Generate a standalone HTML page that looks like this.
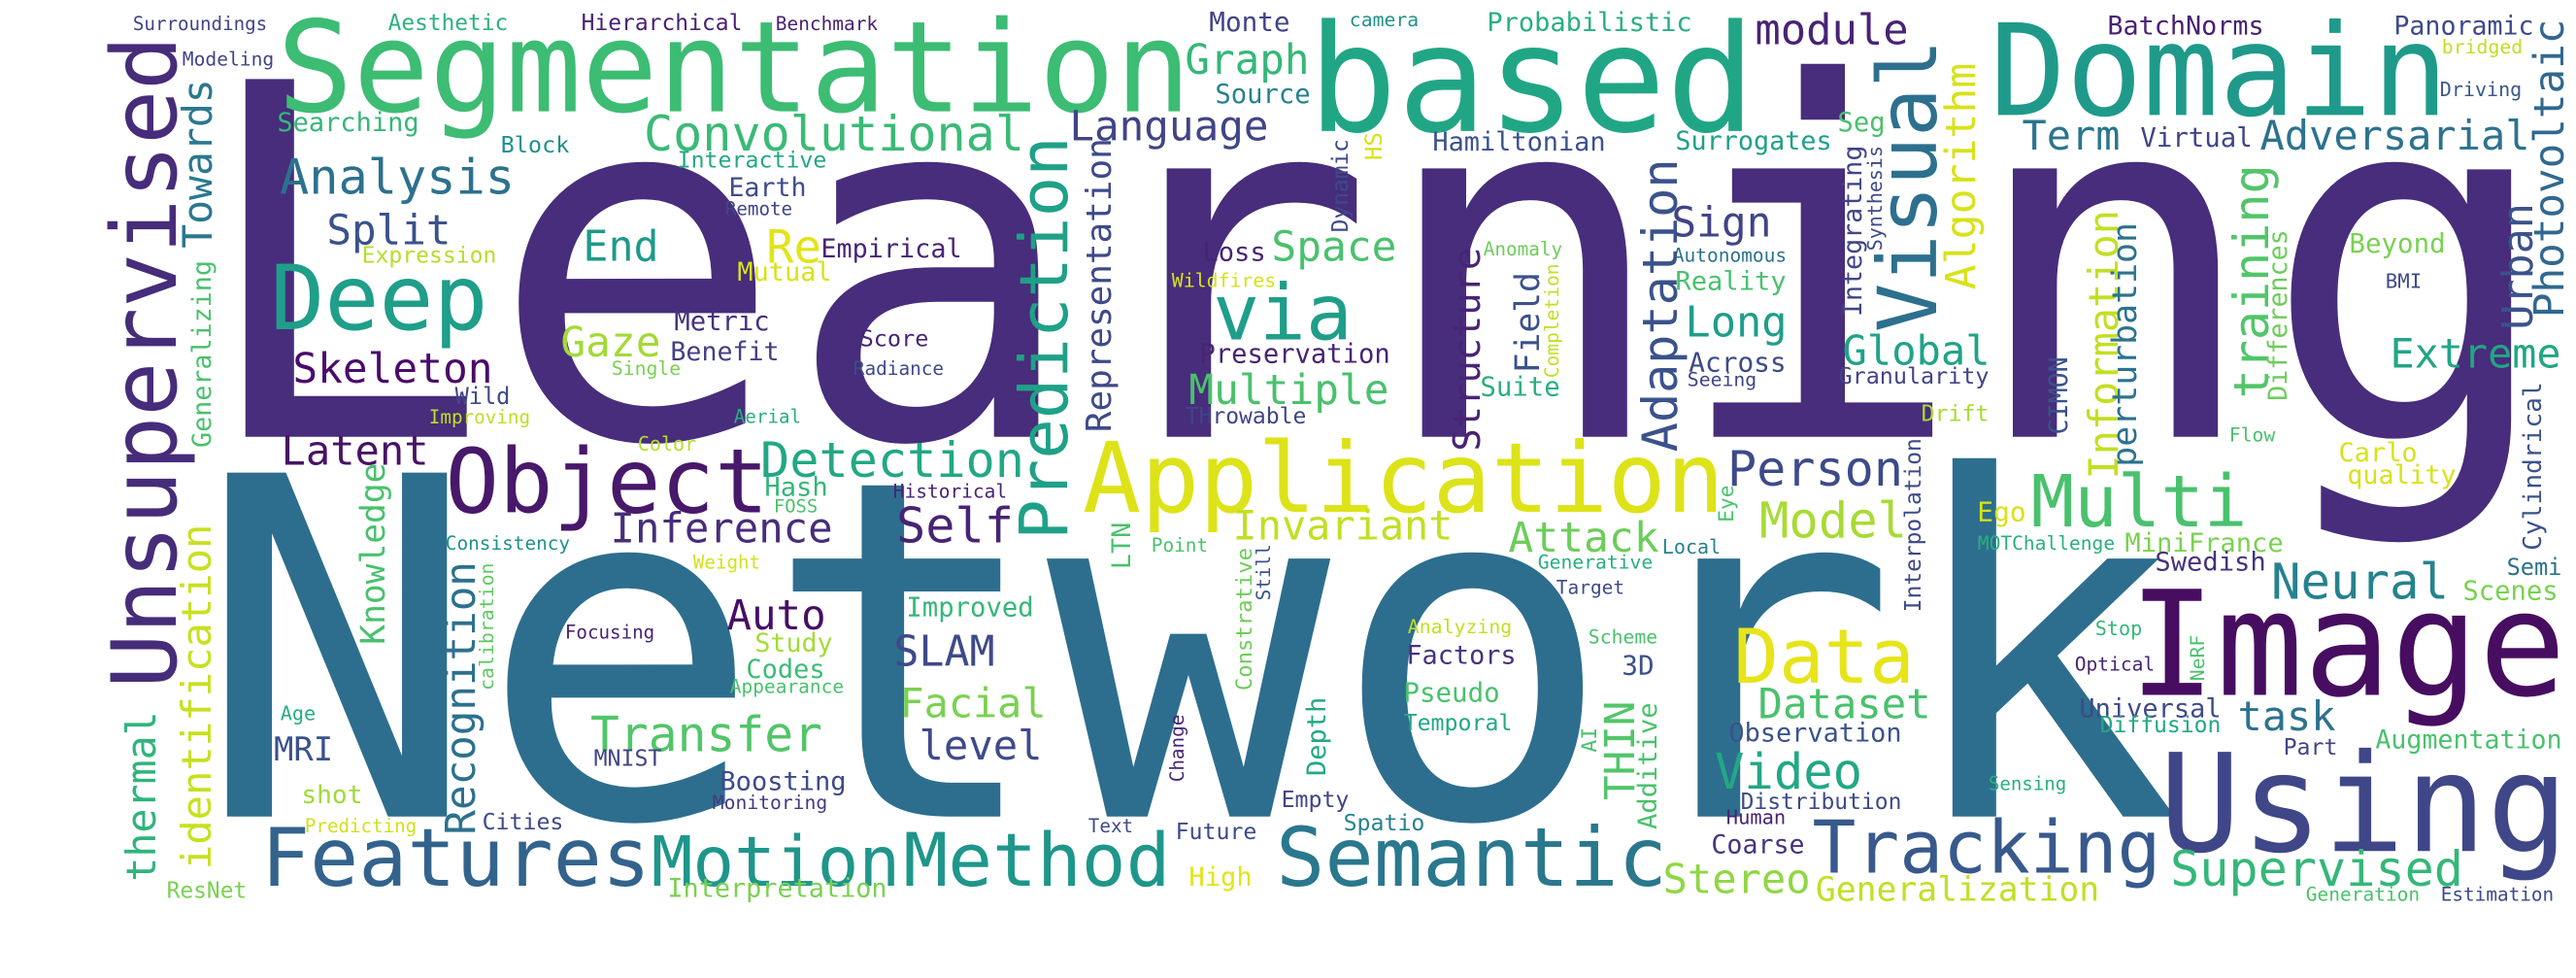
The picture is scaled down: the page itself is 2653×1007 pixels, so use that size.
<!DOCTYPE html>
<html><head><meta charset="utf-8"><title>Word Cloud</title>
<style>html,body{margin:0;padding:0;background:#fff;}svg{display:block;}
text{font-family:"DejaVu Sans Mono","Liberation Mono",monospace;}</style></head>
<body>
<svg id="cloud" xmlns="http://www.w3.org/2000/svg" width="2653" height="1007" viewBox="0 0 2653 1007">
<rect width="2653" height="1007" fill="#ffffff"/>
</svg>
<script>
// Horizontal words: [word, leftX, rightX, baselineY, color]
const hWords = [
["Learning",230,2603,467,"#472d7b"],
["Network",230,2218,873,"#2d6e8e"],
["Segmentation",293,1219,119,"#3dbc74"],
["based",1356,1799,140,"#21a685"],
["Domain",2057,2514,123,"#1f9a8a"],
["Image",2201,2634,743,"#470d60"],
["Using",2232,2637,910,"#3f4788"],
["Application",1121,1770,547,"#dde318"],
["Object",464,786,548,"#48186a"],
["Features",274,665,947,"#33638d"],
["Method",935,1201,947,"#1f968b"],
["Semantic",1319,1712,947,"#2a788e"],
["Tracking",1871,2221,933,"#38598c"],
["Supervised",2238,2534,947,"#35b779"],
["Motion",675,923,947,"#1f968b"],
["Deep",284,497,352,"#1f9e89"],
["Convolutional",666,1052,161,"#3aba76"],
["Detection",786,1052,510,"#22a884"],
["Transfer",611,844,803,"#52c569"],
["Multi",2096,2310,563,"#4ac16d"],
["Data",1790,1967,730,"#e7e419"],
["Analysis",291,527,207,"#2d718e"],
["Skeleton",304,505,409,"#4a0c6b"],
["Latent",292,439,497,"#471365"],
["Inference",631,855,580,"#472d7b"],
["Surroundings",138,274,32,"#414487"],
["Aesthetic",401,522,32,"#2db27d"],
["Hierarchical",600,763,32,"#482173"],
["Benchmark",800,903,32,"#482173"],
["Modeling",189,281,70,"#414487"],
["Searching",287,430,140,"#35b779"],
["Block",517,585,163,"#21918c"],
["Interactive",699,850,179,"#22a884"],
["Earth",752,829,210,"#3e4c8a"],
["Remote",748,815,230,"#414487"],
["Split",339,462,261,"#3b528b"],
["Expression",374,510,281,"#b5de2b"],
["End",603,676,279,"#1f9a8a"],
["Re",792,843,281,"#e2e418"],
["Empirical",847,989,275,"#482576"],
["Mutual",761,855,300,"#d8e219"],
["Metric",696,791,353,"#46337e"],
["Gaze",580,678,381,"#a2da37"],
["Benefit",692,801,385,"#433e85"],
["Single",631,700,401,"#7ad151"],
["Wild",470,524,432,"#3e4a89"],
["Improving",443,545,453,"#bddf26"],
["Aerial",757,824,452,"#29af7f"],
["Color",658,716,482,"#b5de2b"],
["Hash",789,851,530,"#35b779"],
["FOSS",798,841,548,"#4ac16d"],
["Consistency",460,586,588,"#21918c"],
["Weight",715,782,608,"#d2e21b"],
["Auto",751,848,673,"#471063"],
["Focusing",583,673,683,"#482475"],
["Study",779,856,697,"#a5db36"],
["Codes",770,848,725,"#3bbb75"],
["Appearance",753,868,741,"#4ac16d"],
["Age",290,324,770,"#27ad81"],
["MRI",284,341,813,"#3b528b"],
["MNIST",613,680,819,"#414487"],
["Boosting",743,870,845,"#3e4a89"],
["Monitoring",735,851,865,"#443983"],
["shot",312,372,859,"#a0da39"],
["Predicting",315,428,890,"#d0e11c"],
["Cities",498,579,887,"#3e4a89"],
["Interpretation",689,912,959,"#7ad151"],
["ResNet",173,253,960,"#7ad151"],
["Monte",1247,1327,33,"#414487"],
["camera",1391,1460,28,"#21918c"],
["Probabilistic",1533,1741,33,"#29af7f"],
["Graph",1223,1346,79,"#35b779"],
["Source",1253,1348,110,"#26828e"],
["Language",1104,1304,150,"#414487"],
["Hamiltonian",1477,1652,161,"#3b528b"],
["Surrogates",1727,1885,160,"#1fa088"],
["Loss",1240,1302,279,"#482475"],
["Space",1312,1436,279,"#4ac16d"],
["Wildfires",1208,1313,307,"#d8e219"],
["Anomaly",1529,1608,273,"#6ccd5a"],
["via",1254,1388,363,"#1f9e89"],
["Preservation",1237,1430,388,"#482475"],
["Multiple",1227,1428,432,"#4ac16d"],
["Suite",1526,1605,423,"#29af7f"],
["Score",887,955,370,"#482475"],
["Radiance",880,971,401,"#3e4a89"],
["THrowable",1222,1344,453,"#414487"],
["Historical",921,1036,532,"#482475"],
["Self",926,1041,580,"#482475"],
["Invariant",1272,1494,577,"#c2df23"],
["Attack",1556,1706,590,"#6ccd5a"],
["Local",1713,1771,592,"#26828e"],
["Generative",1585,1701,608,"#29af7f"],
["Target",1604,1672,635,"#3e4a89"],
["Point",1187,1243,590,"#4ac16d"],
["Improved",935,1063,659,"#35b779"],
["SLAM",923,1022,712,"#3e4a89"],
["Analyzing",1451,1556,677,"#c2df23"],
["Factors",1450,1560,710,"#46337e"],
["Scheme",1637,1706,688,"#4ac16d"],
["3D",1672,1702,721,"#3b528b"],
["Facial",929,1075,767,"#7ad151"],
["Pseudo",1447,1543,750,"#4ac16d"],
["Temporal",1447,1556,781,"#22a884"],
["level",949,1071,812,"#3e4a89"],
["Empty",1321,1388,863,"#414487"],
["Text",1122,1166,890,"#3e4a89"],
["Future",1212,1293,897,"#3e4a89"],
["Spatio",1385,1466,888,"#26828e"],
["High",1226,1288,947,"#e2e418"],
["module",1810,1963,47,"#482475"],
["BatchNorms",2172,2330,37,"#482173"],
["Panoramic",2467,2608,37,"#3e4a89"],
["bridged",2516,2597,57,"#c2df23"],
["Driving",2514,2596,103,"#39568c"],
["Seg",1894,1940,140,"#4ac16d"],
["Term",2085,2181,160,"#2a768e"],
["Virtual",2206,2318,157,"#414487"],
["Adversarial",2330,2603,160,"#2c728e"],
["Sign",1724,1822,253,"#414487"],
["Autonomous",1724,1839,280,"#2c728e"],
["Reality",1727,1838,310,"#4ac16d"],
["Long",1738,1838,360,"#1f9e89"],
["Across",1741,1838,397,"#3e4a89"],
["Seeing",1739,1808,413,"#414487"],
["Global",1900,2047,390,"#20a386"],
["Granularity",1895,2047,410,"#414487"],
["Drift",1980,2047,450,"#a8db34"],
["Beyond",2421,2517,270,"#7ad151"],
["BMI",2458,2493,308,"#3e4a89"],
["Extreme",2464,2635,393,"#21a685"],
["Flow",2297,2342,472,"#4ac16d"],
["Carlo",2410,2488,493,"#d8e219"],
["quality",2419,2528,517,"#d8e219"],
["Person",1782,1957,519,"#3e4a89"],
["Model",1815,1961,575,"#a8db34"],
["Ego",2038,2085,557,"#d8e219"],
["MOTChallenge",2038,2177,588,"#29af7f"],
["MiniFrance",2190,2350,590,"#7ad151"],
["Swedish",2221,2332,610,"#46337e"],
["Neural",2342,2519,640,"#26828e"],
["Semi",2583,2637,615,"#2c728e"],
["Scenes",2538,2633,641,"#7ad151"],
["Stop",2159,2205,679,"#35b779"],
["Optical",2138,2218,717,"#482475"],
["Dataset",1813,1986,768,"#4ac16d"],
["Universal",2143,2286,767,"#3e4a89"],
["Diffusion",2164,2286,783,"#22a884"],
["task",2307,2403,781,"#2c728e"],
["Observation",1782,1957,793,"#3b528b"],
["Part",2353,2406,807,"#414487"],
["Augmentation",2448,2637,800,"#4ac16d"],
["Video",1769,1915,843,"#22a884"],
["Sensing",2049,2127,845,"#29af7f"],
["Distribution",1794,1957,865,"#3e4a89"],
["Human",1779,1838,881,"#482475"],
["Coarse",1764,1857,912,"#46337e"],
["Stereo",1715,1862,955,"#8fd744"],
["Generalization",1872,2160,963,"#c2df23"],
["Generation",2376,2491,963,"#4ac16d"],
["Estimation",2515,2629,963,"#3e4a89"]
];
// Vertical words (read bottom-to-top): [word, baselineX, bottomY, topY, color]
const vWords = [
["Unsupervised",181,730,44,"#472c7a"],
["Towards",218,263,87,"#2a788e"],
["Generalizing",217,477,280,"#4ac16d"],
["identification",217,927,563,"#c8e020"],
["thermal",160,940,763,"#2fb47c"],
["Knowledge",396,687,497,"#4ac16d"],
["Recognition",489,890,603,"#2c718e"],
["calibration",508,737,603,"#5ec962"],
["Prediction",1099,573,150,"#1fa187"],
["Representation",1144,460,150,"#3e4a89"],
["Dynamic",1388,247,150,"#3e4a89"],
["HS",1423,170,143,"#d8e219"],
["Structure",1524,480,267,"#482475"],
["Field",1585,397,293,"#3b528b"],
["Completion",1605,403,283,"#c2df23"],
["Adaptation",1727,480,173,"#3b528b"],
["LTN",1164,607,560,"#4ac16d"],
["Constrative",1289,737,587,"#6ccd5a"],
["Still",1308,641,583,"#3b528b"],
["Depth",1365,828,747,"#22a884"],
["Change",1219,835,765,"#482475"],
["THIN",1683,853,752,"#52c569"],
["AI",1644,803,779,"#4ac16d"],
["Additive",1706,885,753,"#4ac16d"],
["Photovoltaic",2640,337,23,"#31688e"],
["Visual",1994,350,47,"#2d708e"],
["Algorithm",2034,307,70,"#d8e219"],
["Integrating",1917,337,157,"#414487"],
["Synthesis",1938,267,157,"#3e4a89"],
["Information",2181,510,227,"#c2df23"],
["perturbation",2200,497,240,"#2c728e"],
["CIMON",2129,463,383,"#3b528b"],
["training",2336,423,179,"#52c569"],
["Differences",2355,427,247,"#6ccd5a"],
["Urban",2608,350,220,"#3b528b"],
["Cylindrical",2617,587,410,"#3b528b"],
["Interpolation",1978,653,470,"#3e4a89"],
["Eye",1785,557,520,"#4ac16d"],
["NeRF",2270,727,680,"#4ac16d"]
];
const K = 0.963;
const svg = document.getElementById('cloud');
const NS = 'http://www.w3.org/2000/svg';
function slug(w){ return w.toLowerCase().replace(/[^a-z0-9]+/g,'-'); }
hWords.forEach(function(r){
  const w=r[0], n=w.length;
  const fs=(r[2]-r[1])/(0.602*n-0.12);
  const t=document.createElementNS(NS,'text');
  t.setAttribute('x',(r[1]-0.06*fs).toFixed(1));
  t.setAttribute('y',(r[3]*K).toFixed(1));
  t.setAttribute('font-size',fs.toFixed(1));
  t.setAttribute('textLength',(0.602*n*fs).toFixed(1));
  t.setAttribute('lengthAdjust','spacingAndGlyphs');
  t.setAttribute('fill',r[4]);
  
  
  t.textContent=w;
  svg.appendChild(t);
});
vWords.forEach(function(r){
  const w=r[0], n=w.length;
  const y1=r[2]*K, y2=r[3]*K;
  const fs=(y1-y2)/(0.602*n-0.12);
  const t=document.createElementNS(NS,'text');
  t.setAttribute('x','0');
  t.setAttribute('y','0');
  t.setAttribute('transform','translate('+r[1]+','+(y1+0.06*fs).toFixed(1)+') rotate(-90)');
  t.setAttribute('font-size',fs.toFixed(1));
  t.setAttribute('textLength',(0.602*n*fs).toFixed(1));
  t.setAttribute('lengthAdjust','spacingAndGlyphs');
  t.setAttribute('fill',r[4]);
  
  
  t.textContent=w;
  svg.appendChild(t);
});
</script>
</body></html>
